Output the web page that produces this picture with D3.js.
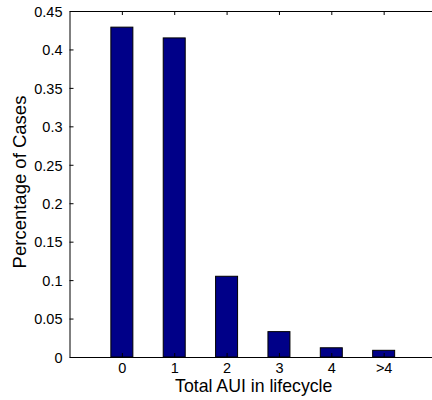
<!DOCTYPE html>
<html>
<head>
<meta charset="utf-8">
<script src="https://cdn.jsdelivr.net/npm/d3@7"></script>
<style>
  body { margin: 0; background: #fff; }
  text { font-family: "Liberation Sans", Arial, sans-serif; fill: #000; }
</style>
</head>
<body>
<svg id="viz" width="432" height="400"></svg>
<script>
// Bar chart: share of cases by total AUI

var categories = ["0", "1", "2", "3", "4", ">4"];
var percentages = [0.429, 0.415, 0.105, 0.033, 0.012, 0.0087];
var yTicks = [0, 0.05, 0.1, 0.15, 0.2, 0.25, 0.3, 0.35, 0.4, 0.45];

var svg = d3.select("#viz");
var plotLeft = 69.5, plotTop = 11, plotBottom = 357;
var step = 52.36;
var plotRight = plotLeft + step * (categories.length + 1);

// positions 1..n like matlab, xlim [0, n+1]
var x = d3.scaleLinear().domain([0, categories.length + 1]).range([plotLeft, plotRight]);
var y = d3.scaleLinear().domain([0, 0.45]).range([plotBottom, plotTop]);
var barW = step * 0.42;

var g = svg.append("g");

g.selectAll("rect.bar")
    .data(percentages)
    .enter()
    .append("rect")
    .attr("class", "bar")
    .attr("x", (d, i) => x(i + 1) - barW / 2)
    .attr("y", d => y(d))
    .attr("width", barW)
    .attr("height", d => plotBottom - y(d))
    .attr("fill", "#000088")
    .attr("stroke", "#000")
    .attr("stroke-width", 1);

// left axis, ticks pointing inward
var yAxis = d3.axisLeft(y)
    .tickValues(yTicks)
    .tickFormat(d => d3.format("")(+d.toFixed(2)))
    .tickSizeInner(-4)
    .tickSizeOuter(0)
    .tickPadding(7);
var ya = svg.append("g")
    .attr("transform", `translate(${plotLeft},0)`)
    .call(yAxis);
ya.selectAll("text").style("font-size", "14.5px").attr("dy", "0.36em");

// bottom axis
var xAxis = d3.axisBottom(x)
    .tickValues(d3.range(1, categories.length + 1))
    .tickFormat(d => categories[d - 1])
    .tickSizeInner(-4)
    .tickSizeOuter(0)
    .tickPadding(6);
var xa = svg.append("g")
    .attr("transform", `translate(0,${plotBottom})`)
    .call(xAxis);
xa.selectAll("text").style("font-size", "14.5px");

// top axis (ticks only)
var xTop = d3.axisTop(x)
    .tickValues(d3.range(1, categories.length + 1))
    .tickFormat("")
    .tickSizeInner(-4)
    .tickSizeOuter(0);
svg.append("g")
    .attr("transform", `translate(0,${plotTop})`)
    .call(xTop);

svg.selectAll(".domain").attr("stroke", "#000").attr("stroke-width", 1);
svg.selectAll(".tick line").attr("stroke", "#000");

svg.append("text")
    .attr("x", 253.7)
    .attr("y", 392)
    .attr("text-anchor", "middle")
    .style("font-size", "17.7px")
    .text("Total AUI in lifecycle");

svg.append("text")
    .attr("transform", `translate(26,182) rotate(-90)`)
    .attr("text-anchor", "middle")
    .style("font-size", "18.5px")
    .text("Percentage of Cases");
</script>
</body>
</html>
